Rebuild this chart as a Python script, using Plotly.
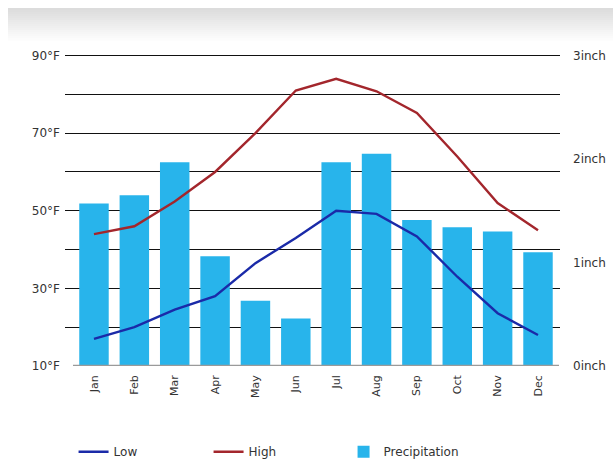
import plotly.graph_objects as go

months = ["Jan", "Feb", "Mar", "Apr", "May", "Jun", "Jul", "Aug", "Sep", "Oct", "Nov", "Dec"]
low_f = [17, 20, 24.5, 28, 36.5, 43, 50, 49.2, 43.4, 33, 23.6, 18]
high_f = [44, 46, 52.4, 60, 70, 81, 84, 80.8, 75.2, 64, 52, 45]
precip_in = [1.57, 1.65, 1.97, 1.06, 0.63, 0.46, 1.97, 2.05, 1.41, 1.34, 1.30, 1.10]

temp_ticks = [10, 20, 30, 40, 50, 60, 70, 80, 90]
temp_labels = ["10°F", "", "30°F", "", "50°F", "", "70°F", "", "90°F"]
precip_ticks = [0, 1, 2, 3]
precip_labels = ["0inch", "1inch", "2inch", "3inch"]

FONT = "DejaVu Sans"
TXT = "#333333"

T_MIN, T_MAX = 10, 90.4
P_MAX = 3 * (T_MAX - T_MIN) / 80

fig = go.Figure()

fig.add_trace(go.Bar(
    x=months, y=precip_in, name="Precipitation",
    marker=dict(color="#28b4eb", line=dict(width=0)),
    yaxis="y", width=0.73, legendrank=3,
))
fig.add_trace(go.Scatter(
    x=months, y=low_f, name="Low", mode="lines",
    line=dict(color="#1a2aa8", width=2.4),
    yaxis="y2", legendrank=1,
))
fig.add_trace(go.Scatter(
    x=months, y=high_f, name="High", mode="lines",
    line=dict(color="#a3262c", width=2.4),
    yaxis="y2", legendrank=2,
))

PL, PR, PT, PB = 65, 560, 54, 366
PW, PH = PR - PL, PB - PT

def px_x(x):
    return (x - PL) / PW

def px_y(y):
    return (PB - y) / PH

shapes = []
n = 16
for i in range(n):
    frac = i / n
    g = int(220 + (255 - 220) * frac)
    ya = 8 + i * 2
    shapes.append(dict(
        type="rect", xref="paper", yref="paper",
        x0=px_x(8), x1=px_x(613),
        y0=px_y(ya + 2.5), y1=px_y(ya),
        fillcolor=f"rgb({g},{g},{g})", line=dict(width=0), layer="below",
    ))
shapes.append(dict(type="line", xref="x", yref="y", x0=-0.52, x1=11.52, y0=0, y1=0,
                   line=dict(color="#9a9a9a", width=2.5), layer="above"))

fig.update_layout(
    width=613, height=461,
    margin=dict(l=PL, r=613 - PR, t=PT, b=461 - PB, autoexpand=False),
    paper_bgcolor="white", plot_bgcolor="rgba(0,0,0,0)",
    font=dict(family=FONT, size=12, color=TXT),
    showlegend=True,
    legend=dict(
        orientation="h", xref="container", yref="container",
        x=0.12, y=0.02, xanchor="left", yanchor="middle",
        font=dict(family=FONT, size=12, color=TXT),
        entrywidth=90, entrywidthmode="pixels",
        itemwidth=30, traceorder="normal",
    ),
    xaxis=dict(
        type="category", range=[-0.718, 11.545],
        tickangle=-90, tickfont=dict(size=11, color=TXT),
        showgrid=False, showline=False, ticks="", zeroline=False,
        ticklabelstandoff=6,
    ),
    yaxis=dict(
        side="right", range=[0, P_MAX], tickvals=precip_ticks, ticktext=precip_labels,
        showgrid=False, zeroline=False, showline=False, ticks="",
        tickfont=dict(size=12, color=TXT), ticklabelstandoff=12,
    ),
    yaxis2=dict(
        side="left", overlaying="y", range=[T_MIN, T_MAX],
        tickvals=temp_ticks, ticktext=temp_labels,
        showgrid=True, gridcolor="#111111", gridwidth=1,
        zeroline=False, showline=False, ticks="",
        tickfont=dict(size=12, color=TXT), ticklabelstandoff=4,
    ),
    shapes=shapes,
)

fig.write_html("out.html")
